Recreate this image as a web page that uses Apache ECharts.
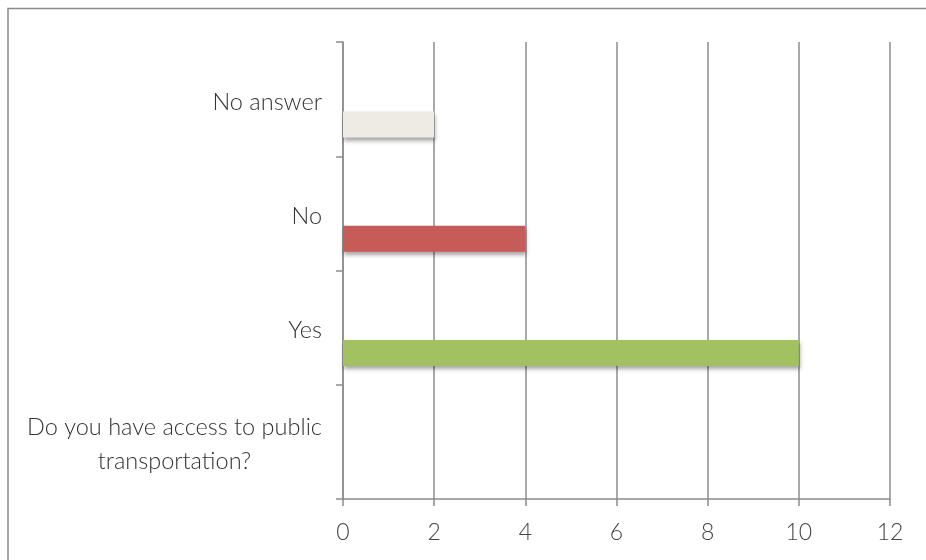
<!DOCTYPE html>
<html>
<head>
<meta charset="utf-8">
<script src="https://cdn.jsdelivr.net/npm/echarts@6/dist/echarts.min.js"></script>
<style>html,body{margin:0;padding:0;background:#fff;}#c{width:926px;height:560px;}</style>
</head>
<body>
<div id="c"></div>
<script>
const categories = ['Do you have access to public transportation?', 'Yes', 'No', 'No answer'];
const values = [null, 10, 4, 2];
const barColors = ['#ffffff', '#A2C262', '#C75B58', '#EDEBE3'];
const xTicks = { min: 0, max: 12, interval: 2 };

const chart = echarts.init(document.getElementById('c'));
const font = 'Lato, "Open Sans", sans-serif';
chart.setOption({
  animation: false,
  backgroundColor: '#ffffff',
  grid: { left: 343, right: 36, top: 42, bottom: 61, containLabel: false },
  graphic: [
    { type: 'polyline', shape: { points: [[8, 560], [8, 8.5], [926, 8.5]] }, style: { stroke: '#8a8a8a', lineWidth: 1.5, fill: null } }
  ],
  xAxis: {
    type: 'value', min: xTicks.min, max: xTicks.max, interval: xTicks.interval,
    axisLine: { show: true, lineStyle: { color: '#8c8c8c', width: 1.5 } },
    axisTick: { show: true, length: 7, lineStyle: { color: '#8c8c8c', width: 1.5 } },
    splitLine: { show: true, lineStyle: { color: '#8c8c8c', width: 1.5 } },
    axisLabel: { color: '#444', fontFamily: font, fontSize: 23, margin: 22, fontWeight: 300 }
  },
  yAxis: {
    type: 'category', data: categories,
    axisLine: { show: true, lineStyle: { color: '#8c8c8c', width: 1.5 } },
    axisTick: { show: true, length: 7, lineStyle: { color: '#8c8c8c', width: 1.5 } },
    splitLine: { show: false },
    axisLabel: {
      color: '#333', fontFamily: font, fontSize: 23.5, fontWeight: 300, margin: 21,
      padding: [6, 0, 0, 0],
      formatter: function (v) {
        if (v.length > 30) {
          return '{c|Do you have access to public}\n{c|transportation?}';
        }
        return v;
      },
      rich: { c: { width: 295, align: 'center', lineHeight: 34, fontSize: 23.5, fontFamily: font, color: '#333', fontWeight: 300 } }
    }
  },
  series: [
    { type: 'bar', data: categories.map(() => null), barWidth: 26, barGap: '96%', silent: true },
    {
      type: 'bar', barWidth: 26, barGap: '96%',
      data: values.map((v, i) => ({ value: v, itemStyle: { color: barColors[i] } })),
      itemStyle: { shadowBlur: 4, shadowOffsetX: 1, shadowOffsetY: 3, shadowColor: 'rgba(0,0,0,0.35)' }
    }
  ]
});
</script>
</body>
</html>
